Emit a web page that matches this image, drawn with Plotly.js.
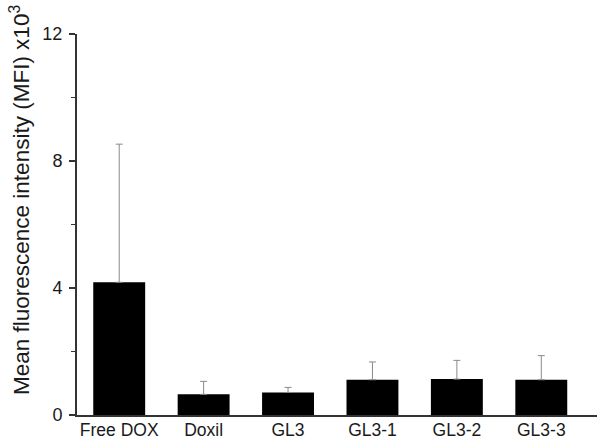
<!DOCTYPE html>
<html>
<head>
<meta charset="utf-8">
<script src="https://cdn.plot.ly/plotly-3.0.1.min.js"></script>
<style>html,body{margin:0;padding:0;background:#fff;}#chart{width:597px;height:441px;}</style>
</head>
<body>
<div id="chart"></div>
<script>
const categories = ["Free DOX", "Doxil", "GL3", "GL3-1", "GL3-2", "GL3-3"];
const meanMFI = [4.18, 0.65, 0.71, 1.11, 1.13, 1.11];
const errPlus = [4.35, 0.41, 0.16, 0.56, 0.59, 0.76];
const yTickVals = [0, 4, 8, 12];
const yTickText = ["0", "4", "8", "12"];

const font = "Liberation Sans, Arial, sans-serif";

const trace = {
  type: "bar",
  x: categories,
  y: meanMFI,
  width: 0.615,
  marker: {color: "#000000", line: {width: 0}},
  error_y: {type: "data", symmetric: false, array: errPlus, arrayminus: categories.map(() => 0),
            color: "#8a8a8a", thickness: 1, width: 3.5},
  hoverinfo: "none"
};

const layout = {
  width: 597, height: 441,
  margin: {l: 77, r: 0, t: 34, b: 26, pad: 0},
  paper_bgcolor: "#ffffff", plot_bgcolor: "#ffffff",
  showlegend: false,
  font: {family: font, color: "#1a1a1a", size: 18},
  xaxis: {
    type: "category",
    range: [-0.5, 5.66],
    showline: true, linecolor: "#333333", linewidth: 2,
    ticks: "", showgrid: false, zeroline: false,
    ticklabelstandoff: -2,
    tickfont: {family: font, size: 17.5, color: "#1a1a1a"},
    automargin: false
  },
  yaxis: {
    range: [0, 12],
    tickvals: yTickVals, ticktext: yTickText,
    ticks: "outside", ticklen: 6, tickwidth: 1.5, tickcolor: "#333333",
    minor: {dtick: 2, tick0: 0, ticks: "outside", ticklen: 4, tickwidth: 1.5, tickcolor: "#333333", showgrid: false},
    showline: true, linecolor: "#333333", linewidth: 2,
    showgrid: false, zeroline: false,
    ticklabelstandoff: 3,
    tickfont: {family: font, size: 18, color: "#1a1a1a"},
    automargin: false
  },
  annotations: [{
    text: "Mean fluorescence intensity (MFI) x10<sup>3</sup>",
    textangle: -90,
    xref: "paper", yref: "paper",
    x: (20 - 77) / 520, y: (415 - 200) / 381,
    xanchor: "center", yanchor: "middle",
    showarrow: false,
    font: {family: font, size: 22.5, color: "#1a1a1a"}
  }]
};

Plotly.newPlot("chart", [trace], layout, {displayModeBar: false, staticPlot: true});
</script>
</body>
</html>
